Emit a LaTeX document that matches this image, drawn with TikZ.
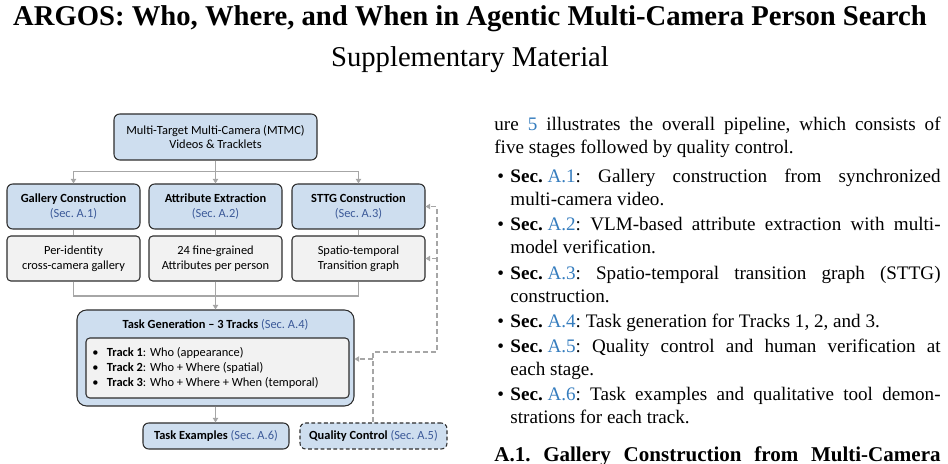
\documentclass[tikz,border=0pt]{standalone}
\usepackage{fontspec}
\setmainfont{Liberation Serif}
\newfontfamily\diagfont{Carlito}
\usetikzlibrary{arrows.meta}
\definecolor{boxblue}{RGB}{206,222,239}
\definecolor{boxgray}{RGB}{242,242,242}
\definecolor{conngray}{RGB}{166,166,166}
\definecolor{secblue}{RGB}{59,89,152}
\definecolor{linkblue}{RGB}{54,125,190}
\definecolor{edgegray}{RGB}{45,45,45}
\newcommand{\sectag}[1]{\textcolor{secblue}{(Sec.~#1)}}
\newcommand{\seclink}[1]{\textbf{Sec.}\hspace{2.5pt}\textcolor{linkblue}{#1}}
\newcommand{\bodyitem}[1]{\hangindent=8.4pt\hangafter=1\noindent\makebox[8.4pt][l]{\hspace{1.6pt}\textbullet}#1\par}
\newcommand{\trackitem}[1]{\makebox[7.6pt][l]{\textbullet}#1}
\begin{document}
\begin{tikzpicture}[x=0.5233pt,y=-0.5233pt,
  dfont/.style={font=\diagfont\fontsize{6.5}{7.8}\selectfont},
  sz/.style 2 args={minimum width={#1*0.5233pt}, minimum height={#2*0.5233pt}},
  bluebox/.style={dfont, draw=edgegray, line width=0.55pt, fill=boxblue, rounded corners=3pt, align=center, inner sep=0pt},
  graybox/.style={dfont, draw=edgegray, line width=0.55pt, fill=boxgray, rounded corners=2pt, align=center, inner sep=0pt},
  conn/.style={draw=conngray, line width=1pt},
  arrowconn/.style={conn, -{Triangle[length=2.4pt,width=2.8pt]}},
  fbconn/.style={draw=conngray, line width=1pt, dash pattern=on 2.6pt off 1.6pt, -{Triangle[length=2.4pt,width=2.8pt]}},
]
\useasboundingbox (0,0) rectangle (948,464);
\clip (0,0) rectangle (948,464);

% title
\node[font=\fontsize{15}{18}\selectfont\bfseries, anchor=base, inner sep=0pt] (title) at (470,26) {ARGOS: Who, Where, and When in Agentic Multi-Camera Person Search};
\node[font=\fontsize{15}{18}\selectfont, anchor=base, inner sep=0pt] (subtitle) at (470,67) {Supplementary Material};

% diagram boxes
\node[bluebox, sz={203}{46}] (mtmc) at (215.5,137) {Multi-Target Multi-Camera (MTMC)\\Videos \& Tracklets};
\node[bluebox, sz={133}{45}] (gal) at (73.5,206.5) {\textbf{Gallery Construction}\\\sectag{A.1}};
\node[bluebox, sz={133}{45}] (attr) at (215.5,206.5) {\textbf{Attribute Extraction}\\\sectag{A.2}};
\node[bluebox, sz={133}{45}] (sttg) at (358.5,206.5) {\textbf{STTG Construction}\\\sectag{A.3}};
\node[graybox, sz={133}{45}] (gal2) at (73.5,258.5) {Per-identity\\cross-camera gallery};
\node[graybox, sz={133}{45}] (attr2) at (215.5,258.5) {24 fine-grained\\Attributes per person};
\node[graybox, sz={133}{45}] (sttg2) at (358.5,258.5) {Spatio-temporal\\Transition graph};
\node[bluebox, rounded corners=5pt, sz={277}{96}] (taskgen) at (215.5,358) {};
\node[dfont, inner sep=0pt] (tgtitle) at (215.5,325) {\textbf{Task Generation – 3 Tracks} \sectag{A.4}};
\node[graybox, sz={263}{60}] (tracks) at (217.5,368) {};
\node[dfont, anchor=west, align=left, inner sep=0pt] (tracklist) at (92,368)
  {\trackitem{\textbf{Track 1}: Who (appearance)}\\
   \trackitem{\textbf{Track 2}: Who + Where (spatial)}\\
   \trackitem{\textbf{Track 3}: Who + Where + When (temporal)}};
\node[bluebox, sz={146}{26}] (taskex) at (216,436) {\textbf{Task Examples} \sectag{A.6}};
\node[bluebox, dash pattern=on 2pt off 1.3pt, sz={147}{26}] (qc) at (373.5,436) {\textbf{Quality Control} \sectag{A.5}};

% connectors
\coordinate (hub1) at (215.5,171.5);
\coordinate (hub2) at (215.5,296);
\draw[conn] (mtmc.south) -- (hub1);
\draw[arrowconn] (hub1) -| (gal.north);
\draw[arrowconn] (hub1) -- (attr.north);
\draw[arrowconn] (hub1) -| (sttg.north);
\draw[conn] (gal.south) -- (gal2.north);
\draw[conn] (attr.south) -- (attr2.north);
\draw[conn] (sttg.south) -- (sttg2.north);
\draw[conn] (gal2.south) |- (hub2);
\draw[conn] (sttg2.south) |- (hub2);
\draw[conn] (attr2.south) -- (hub2);
\draw[arrowconn] (hub2) -- (taskgen.north);
\draw[arrowconn] (taskgen.south) -- (taskgen.south |- taskex.north);

% feedback (dashed)
\coordinate (q1) at (373,352);
\coordinate (q2) at (437,352);
\coordinate (q3) at (437,206.5);
\coordinate (qb1) at (437,258.5);
\coordinate (qb2) at (373,359);
\draw[fbconn] (qc.north -| q1) -- (q1) -- (q2) -- (q3) -- (sttg.east);
\draw[fbconn] (qb1) -- (sttg2.east);
\draw[fbconn] (qb2) -- (taskgen.east |- qb2);

% right column text
\node[anchor=base west, inner sep=0pt, text width=233.5pt, align=justify, font=\fontsize{10}{12}\selectfont\frenchspacing] (body) at (494,131) {%
\noindent ure \textcolor{linkblue}{5} illustrates the overall pipeline, which consists of\linebreak five stages followed by quality control.\par
\vspace{3.1pt}
\bodyitem{\seclink{A.1}: Gallery construction from synchronized\linebreak multi-camera video.}
\vspace{1.2pt}
\bodyitem{\seclink{A.2}: VLM-based attribute extraction with multi-\linebreak model verification.}
\vspace{1.2pt}
\bodyitem{\seclink{A.3}: Spatio-temporal transition graph (STTG)\linebreak construction.}
\vspace{1.2pt}
\bodyitem{\seclink{A.4}: Task generation for Tracks 1, 2, and 3.}
\vspace{1.2pt}
\bodyitem{\seclink{A.5}: Quality control and human verification at\linebreak each stage.}
\vspace{1.2pt}
\bodyitem{\seclink{A.6}: Task examples and qualitative tool demon-\linebreak strations for each track.}
\vspace{6.3pt}
{\fontsize{11}{13.6}\selectfont\bfseries\noindent\makebox[\linewidth][s]{A.1. Gallery Construction from Multi-Camera}\par}
};
\end{tikzpicture}
\end{document}
